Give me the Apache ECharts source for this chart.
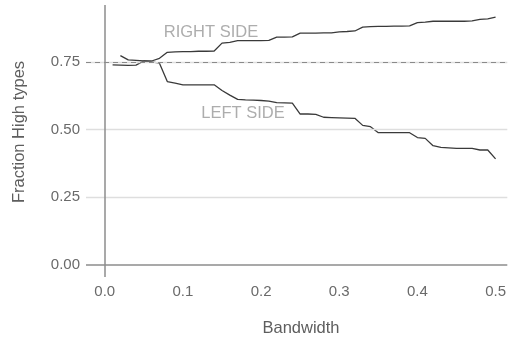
<!DOCTYPE html>
<html>
<head>
<meta charset="utf-8">
<script src="https://cdn.jsdelivr.net/npm/echarts@6/dist/echarts.min.js"></script>
<style>
  html, body { margin: 0; padding: 0; background: #ffffff; }
  #chart { width: 509px; height: 339px; }
</style>
</head>
<body>
<div id="chart"></div>
<script>
// Bandwidth values at which the shares were computed
const bandwidth = [
  0.01, 0.02, 0.03, 0.04, 0.05, 0.06, 0.07, 0.08, 0.09, 0.10,
  0.11, 0.12, 0.13, 0.14, 0.15, 0.16, 0.17, 0.18, 0.19, 0.20,
  0.21, 0.22, 0.23, 0.24, 0.25, 0.26, 0.27, 0.28, 0.29, 0.30,
  0.31, 0.32, 0.33, 0.34, 0.35, 0.36, 0.37, 0.38, 0.39, 0.40,
  0.41, 0.42, 0.43, 0.44, 0.45, 0.46, 0.47, 0.48, 0.49, 0.50
];

// Fraction of high types, right of the cutoff
const rightSide = [
  0.739, 0.738, 0.737, 0.738, 0.753, 0.753, 0.763, 0.785, 0.787, 0.788,
  0.788, 0.789, 0.789, 0.790, 0.819, 0.822, 0.828, 0.828, 0.828, 0.828,
  0.829, 0.841, 0.841, 0.842, 0.856, 0.856, 0.856, 0.857, 0.857, 0.861,
  0.862, 0.864, 0.878, 0.880, 0.881, 0.881, 0.882, 0.882, 0.883, 0.895,
  0.897, 0.900, 0.900, 0.900, 0.900, 0.900, 0.901, 0.907, 0.909, 0.915
];

// Fraction of high types, left of the cutoff (no value at the smallest bandwidth)
const leftSide = [
  null,  0.773, 0.757, 0.755, 0.753, 0.750, 0.745, 0.677, 0.671, 0.665,
  0.665, 0.665, 0.665, 0.665, 0.644, 0.627, 0.611, 0.609, 0.608, 0.607,
  0.605, 0.599, 0.598, 0.597, 0.557, 0.557, 0.556, 0.545, 0.544, 0.543,
  0.542, 0.541, 0.515, 0.510, 0.488, 0.488, 0.488, 0.488, 0.488, 0.470,
  0.467, 0.440, 0.434, 0.432, 0.430, 0.430, 0.430, 0.424, 0.424, 0.391
];

const xTicks = [0, 0.1, 0.2, 0.3, 0.4, 0.5];
const yTicks = [0, 0.25, 0.5, 0.75];
const gridLevels = [0.25, 0.5, 0.75];
const referenceShare = 0.75;

const FONT = 'Liberation Sans, Arial, Helvetica, sans-serif';

function pairs(ys) {
  const out = [];
  ys.forEach((y, i) => { if (y !== null) out.push([bandwidth[i], y]); });
  return out;
}

const guideLines = [];
gridLevels.forEach(v => guideLines.push({
  yAxis: v, lineStyle: { color: '#dedede', width: 1.4, type: 'solid' }
}));
guideLines.push({ yAxis: referenceShare, lineStyle: { color: '#8a8a8a', width: 1.1, type: [5, 4] } });
guideLines.push({ yAxis: 0, lineStyle: { color: '#8c8c8c', width: 1.5, type: 'solid' } });
guideLines.push({ xAxis: 0, lineStyle: { color: '#8c8c8c', width: 1.5, type: 'solid' } });

const chart = echarts.init(document.getElementById('chart'), null, { renderer: 'canvas' });

chart.setOption({
  animation: false,
  backgroundColor: '#ffffff',
  grid: { left: 86, right: 0, top: 5, bottom: 62, containLabel: false },
  xAxis: {
    type: 'value',
    min: -0.024,
    max: 0.515,
    axisLine: { show: false },
    axisTick: { show: false },
    splitLine: { show: false },
    axisLabel: {
      customValues: xTicks,
      formatter: v => v.toFixed(1),
      color: '#6a6a6a',
      fontFamily: FONT,
      fontSize: 15,
      margin: 7
    }
  },
  yAxis: {
    type: 'value',
    min: -0.0455,
    max: 0.96,
    axisLine: { show: false },
    axisTick: { show: false },
    splitLine: { show: false },
    axisLabel: {
      customValues: yTicks,
      formatter: v => v.toFixed(2),
      color: '#6a6a6a',
      fontFamily: FONT,
      fontSize: 15,
      margin: 6
    }
  },
  series: [
    {
      name: 'guides',
      type: 'line',
      data: [],
      z: 1,
      silent: true,
      markLine: {
        silent: true,
        symbol: ['none', 'none'],
        label: { show: false },
        animation: false,
        data: guideLines
      }
    },
    {
      name: 'RIGHT SIDE',
      type: 'line',
      data: pairs(rightSide),
      showSymbol: false,
      z: 3,
      lineStyle: { color: '#3a3a3a', width: 1.3 }
    },
    {
      name: 'LEFT SIDE',
      type: 'line',
      data: pairs(leftSide),
      showSymbol: false,
      z: 3,
      lineStyle: { color: '#3a3a3a', width: 1.3 }
    }
  ],
  graphic: [
    {
      type: 'text', x: 211, y: 32,
      style: { text: 'RIGHT SIDE', fill: '#adadad', font: '16.5px ' + FONT, align: 'center', verticalAlign: 'middle' }
    },
    {
      type: 'text', x: 243, y: 113,
      style: { text: 'LEFT SIDE', fill: '#adadad', font: '16.5px ' + FONT, align: 'center', verticalAlign: 'middle' }
    },
    {
      type: 'text', x: 301, y: 328,
      style: { text: 'Bandwidth', fill: '#5e5e5e', font: '16.5px ' + FONT, align: 'center', verticalAlign: 'middle' }
    },
    {
      type: 'text', x: 19, y: 132, rotation: Math.PI / 2,
      style: { text: 'Fraction High types', fill: '#5e5e5e', font: '16.5px ' + FONT, align: 'center', verticalAlign: 'middle' }
    }
  ]
});
</script>
</body>
</html>
